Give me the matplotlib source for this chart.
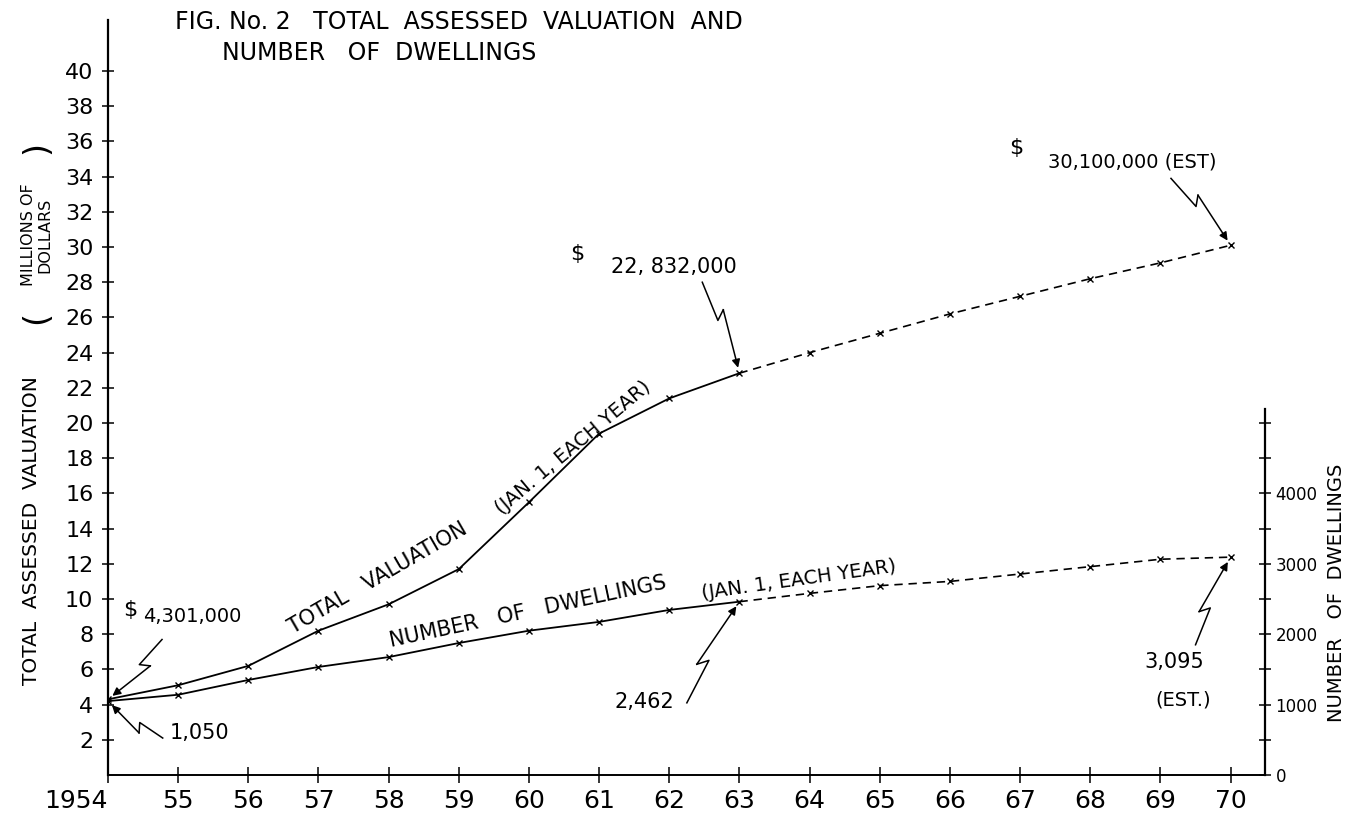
import numpy as np
from matplotlib import pyplot as plt

years = list(range(1954, 1971))
valuation = [4.301, 5.1, 6.2, 8.2, 9.7, 11.7, 15.5, 19.4, 21.4, 22.832,
             24.0, 25.1, 26.2, 27.2, 28.2, 29.1, 30.1]
dwellings = [1050, 1140, 1350, 1535, 1675, 1875, 2050, 2175, 2345, 2462,
             2580, 2690, 2750, 2855, 2960, 3065, 3095]
year_labels = ['1954'] + ['%02d' % (y % 100) for y in years[1:]]
left_ticks = list(range(2, 41, 2))
right_ticks = list(range(0, 5001, 500))
right_labels = ['0', '', '1000', '', '2000', '', '3000', '', '4000', '', '']
split = years.index(1963)  # measured to 1963, estimated after


def zigzag(ax, start, end):
    # hand drawn "lightning" arrow from start to end (data coords of ax)
    s = np.array(ax.transData.transform(start))
    e = np.array(ax.transData.transform(end))
    d = e - s
    n = np.array([-d[1], d[0]]) / np.hypot(*d)
    p1 = s + 0.42 * d
    p2 = s + 0.34 * d + n * 9
    inv = ax.transData.inverted()
    pts = inv.transform(np.vstack([s, p1, p2]))
    ax.plot(pts[:, 0], pts[:, 1], color='black', lw=1.1, clip_on=False)
    ax.annotate('', xy=inv.transform(e), xytext=pts[-1],
                arrowprops=dict(arrowstyle='-|>', color='black', lw=1.1,
                                mutation_scale=12, shrinkA=0, shrinkB=4))


def main():
    fig = plt.figure(figsize=(13.55, 8.18), dpi=100)
    ax = fig.add_axes([108 / 1355, 43 / 818, 1157 / 1355, 755 / 818])
    ax2 = ax.twinx()

    ax.set_xlim(1954, 1970.49)
    ax.set_ylim(0, 42.9)
    ax2.set_ylim(0, 42.9 * 250)

    # total valuation
    ax.plot(years[:split + 1], valuation[:split + 1], '-', color='black', lw=1.3)
    ax.plot(years[split:], valuation[split:], color='black', lw=1.2, dashes=(5, 3.5))
    ax.plot(years, valuation, 'x', color='black', ms=5, mew=1)

    # dwellings
    ax2.plot(years[:split + 1], dwellings[:split + 1], '-', color='black', lw=1.3)
    ax2.plot(years[split:], dwellings[split:], color='black', lw=1.2, dashes=(5, 3.5))
    ax2.plot(years, dwellings, 'x', color='black', ms=5, mew=1)

    for s in ['top', 'right']:
        ax.spines[s].set_visible(False)
    for s in ['top', 'left', 'bottom']:
        ax2.spines[s].set_visible(False)
    ax.spines['left'].set_linewidth(1.6)
    ax.spines['bottom'].set_linewidth(1.4)
    ax2.spines['right'].set_linewidth(1.6)
    ax2.spines['right'].set_bounds(0, 5200)

    ax.set_xticks(years)
    ax.set_xticklabels(year_labels, fontsize=18)
    ax.get_xticklabels()[0].set_horizontalalignment('right')
    ax.set_yticks(left_ticks)
    ax.set_yticklabels([str(t) for t in left_ticks], fontsize=16)
    ax.tick_params(axis='x', direction='inout', length=12, width=1.1, pad=4)
    ax.tick_params(axis='y', direction='inout', length=9, width=1.1, pad=6)
    ax2.set_yticks(right_ticks)
    ax2.set_yticklabels(right_labels, fontsize=12)
    ax2.tick_params(axis='y', direction='inout', length=9, width=1.1, pad=3)

    # titles and axis labels
    fig.text(175 / 1355, 1 - 22 / 818, 'FIG. No. 2   TOTAL  ASSESSED  VALUATION  AND',
             fontsize=17, va='center', ha='left')
    fig.text(222 / 1355, 1 - 53 / 818, 'NUMBER   OF  DWELLINGS',
             fontsize=17, va='center', ha='left')
    fig.text(32 / 1355, 1 - 531 / 818, 'TOTAL  ASSESSED  VALUATION', rotation=90,
             fontsize=14.5, va='center', ha='center')
    fig.text(37 / 1355, 1 - 235 / 818, 'MILLIONS OF\nDOLLARS', rotation=90,
             fontsize=11.5, va='center', ha='center', linespacing=1.1,
             multialignment='center')
    fig.text(37 / 1355, 1 - 318 / 818, '(', rotation=90, fontsize=24, va='center', ha='center')
    fig.text(37 / 1355, 1 - 148 / 818, ')', rotation=90, fontsize=24, va='center', ha='center')
    fig.text(1336 / 1355, 1 - 593 / 818, 'NUMBER   OF  DWELLINGS', rotation=90,
             fontsize=14, va='center', ha='center')

    # line labels
    ax.text(1957.85, 11.2, 'TOTAL   VALUATION', rotation=30, fontsize=15,
            ha='center', va='center', rotation_mode='anchor')
    ax.text(1960.63, 18.6, '(JAN. 1, EACH YEAR)', rotation=40, fontsize=14,
            ha='center', va='center', rotation_mode='anchor')
    ax.text(1959.98, 9.3, 'NUMBER   OF   DWELLINGS', rotation=12, fontsize=15,
            ha='center', va='center', rotation_mode='anchor')
    ax.text(1963.85, 11.1, '(JAN. 1, EACH YEAR)', rotation=8, fontsize=14,
            ha='center', va='center', rotation_mode='anchor')

    # value callouts
    ax.text(1954.21, 9.4, '$', fontsize=16, ha='left', va='center')
    ax.text(1955.2, 9.0, '4,301,000', fontsize=14, ha='center', va='center')
    zigzag(ax, (1954.77, 7.7), (years[0], valuation[0]))

    ax.text(1955.3, 2.4, '1,050', fontsize=15, ha='center', va='center')
    zigzag(ax, (1954.78, 2.1), ax.transData.inverted().transform(
        ax2.transData.transform((years[0], dwellings[0]))))

    ax.text(1960.69, 29.6, '$', fontsize=16, ha='center', va='center')
    ax.text(1962.07, 28.86, '22, 832,000', fontsize=15, ha='center', va='center')
    zigzag(ax, (1962.47, 28.0), (years[split], valuation[split]))

    ax.text(1966.95, 35.6, '$', fontsize=16, ha='center', va='center')
    ax.text(1968.6, 34.85, '30,100,000 (EST)', fontsize=14, ha='center', va='center')
    zigzag(ax, (1969.15, 33.9), (years[-1], valuation[-1]))

    ax.text(1961.65, 4.15, '2,462', fontsize=15, ha='center', va='center')
    zigzag(ax, (1962.25, 4.1), ax.transData.inverted().transform(
        ax2.transData.transform((years[split], dwellings[split]))))

    ax.text(1969.2, 6.4, '3,095', fontsize=15, ha='center', va='center')
    ax.text(1969.33, 4.26, '(EST.)', fontsize=14, ha='center', va='center')
    zigzag(ax, (1969.5, 7.4), ax.transData.inverted().transform(
        ax2.transData.transform((years[-1], dwellings[-1]))))

    fig.savefig('out.png', dpi=100)


if __name__ == '__main__':
    main()
